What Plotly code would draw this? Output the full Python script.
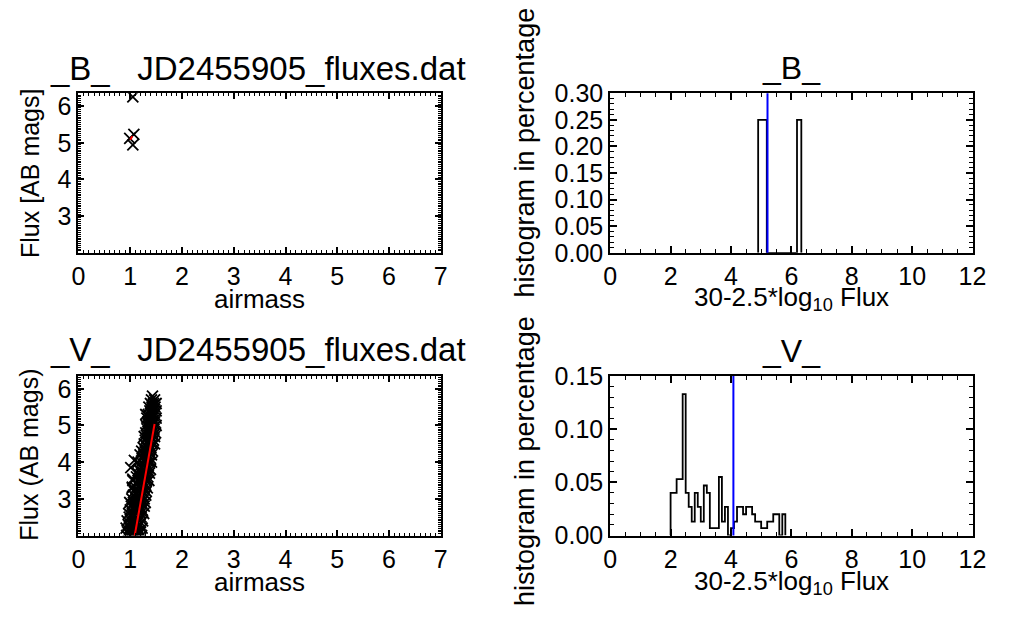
import plotly.graph_objects as go

# ---------------- data ----------------
b_airmass = [1.05, 0.99, 1.07, 1.05]
b_mag = [6.25, 5.12, 5.23, 4.94]
b_fit_airmass = [1.00, 1.04]
b_fit_mag = [5.08, 5.18]

v_airmass = [
    0.93, 1.00, 1.08, 1.15, 1.22,
    0.95, 1.03, 1.12, 1.20,
    0.92, 0.99, 1.06, 1.14, 1.23,
    0.96, 1.04, 1.11, 1.19,
    0.94, 1.01, 1.09, 1.17, 1.24,
    0.98, 1.06, 1.13, 1.21,
    0.97, 1.04, 1.12, 1.20, 1.26,
    1.00, 1.08, 1.16, 1.23,
    1.02, 1.10, 1.18, 1.27,
    0.99, 1.06, 1.14, 1.22, 1.29,
    1.03, 1.11, 1.19, 1.27,
    1.06, 1.14, 1.22, 1.30,
    1.08, 1.16, 1.24, 1.31,
    1.04, 1.11, 1.19, 1.27, 1.33,
    1.13, 1.21, 1.29,
    1.05, 1.15, 1.23, 1.31, 1.36,
    1.12, 1.19, 1.27, 1.34,
    1.14, 1.22, 1.30, 1.37,
    1.01, 1.17, 1.25, 1.33, 1.39,
    1.19, 1.27, 1.35,
    1.08, 1.15, 1.21, 1.29, 1.37, 1.41,
    1.23, 1.31, 1.39,
    1.19, 1.26, 1.34, 1.41,
    1.22, 1.29, 1.37, 1.43,
    1.25, 1.32, 1.40,
    1.27, 1.35, 1.43, 1.47,
    1.29, 1.37, 1.45,
    1.27, 1.33, 1.40, 1.47,
    1.30, 1.36, 1.43, 1.49,
    1.33, 1.39, 1.46,
    1.31, 1.37, 1.43, 1.50,
    1.34, 1.40, 1.47,
    1.32, 1.37, 1.43, 1.50,
    1.30, 1.35, 1.41, 1.47,
    1.38, 1.44, 1.50,
    1.36, 1.42, 1.48,
    1.39, 1.45, 1.50,
    1.41, 1.47,
    1.43,
    1.04, 1.05,
]
v_mag = [
    2.00, 2.00, 2.00, 2.00, 2.00,
    2.10, 2.10, 2.10, 2.10,
    2.20, 2.20, 2.20, 2.20, 2.20,
    2.30, 2.30, 2.30, 2.30,
    2.40, 2.40, 2.40, 2.40, 2.40,
    2.50, 2.50, 2.50, 2.50,
    2.60, 2.60, 2.60, 2.60, 2.60,
    2.70, 2.70, 2.70, 2.70,
    2.80, 2.80, 2.80, 2.80,
    2.90, 2.90, 2.90, 2.90, 2.90,
    3.00, 3.00, 3.00, 3.00,
    3.10, 3.10, 3.10, 3.10,
    3.20, 3.20, 3.20, 3.20,
    3.30, 3.30, 3.30, 3.30, 3.30,
    3.40, 3.40, 3.40,
    3.50, 3.50, 3.50, 3.50, 3.50,
    3.60, 3.60, 3.60, 3.60,
    3.70, 3.70, 3.70, 3.70,
    3.85, 3.80, 3.80, 3.80, 3.80,
    3.90, 3.90, 3.90,
    4.05, 4.00, 4.00, 4.00, 4.00, 4.00,
    4.10, 4.10, 4.10,
    4.20, 4.20, 4.20, 4.20,
    4.30, 4.30, 4.30, 4.30,
    4.40, 4.40, 4.40,
    4.50, 4.50, 4.50, 4.50,
    4.60, 4.60, 4.60,
    4.70, 4.70, 4.70, 4.70,
    4.80, 4.80, 4.80, 4.80,
    4.90, 4.90, 4.90,
    5.00, 5.00, 5.00, 5.00,
    5.10, 5.10, 5.10,
    5.20, 5.20, 5.20, 5.20,
    5.30, 5.30, 5.30, 5.30,
    5.40, 5.40, 5.40,
    5.50, 5.50, 5.50,
    5.60, 5.60, 5.60,
    5.70, 5.70,
    5.80,
    3.32, 3.54,
]
v_fit_airmass = [1.08, 1.47]
v_fit_mag = [1.95, 5.04]

# histograms (fraction per bin)
b_hist_start = 4.90
b_hist_width = 0.143
b_hist_values = [0.25, 0.25, 0, 0, 0, 0, 0, 0, 0, 0.25]
b_hist_mean = 5.21

v_hist_start = 2.0
v_hist_width = 0.1
v_hist_values = [
    0.040, 0.040, 0.053, 0.053, 0.133, 0.040, 0.027, 0.013, 0.040, 0.027,
    0.013, 0.047, 0.040, 0.007, 0.007, 0.007, 0.055, 0.013, 0.027, 0.000,
    0.007, 0.013, 0.027, 0.027, 0.020, 0.027, 0.027, 0.020, 0.013, 0.013,
    0.007, 0.007, 0.013, 0.013, 0.020, 0.020, 0.000, 0.020,
]
v_hist_mean = 4.08

left_xticks = [0, 1, 2, 3, 4, 5, 6, 7]
left_yticks = [3, 4, 5, 6]
right_xticks = [0, 2, 4, 6, 8, 10, 12]
b_hist_yticks = [0.00, 0.05, 0.10, 0.15, 0.20, 0.25, 0.30]
v_hist_yticks = [0.00, 0.05, 0.10, 0.15]

# ---------------- helpers ----------------
W, H = 1011, 624
FONT = "Liberation Sans, Arial, sans-serif"


def px_x(p):
    return p / W


def px_y(p):
    return 1 - p / H


def steps(start, width, values):
    xs, ys = [start], [0]
    for i, v in enumerate(values):
        x0 = start + i * width
        x1 = x0 + width
        xs += [x0, x1]
        ys += [v, v]
    xs.append(start + len(values) * width)
    ys.append(0)
    return xs, ys


fig = go.Figure()

marker = dict(symbol="x-thin-open", size=11, color="black",
              line=dict(color="black", width=1.8))

# top-left
fig.add_trace(go.Scatter(x=b_airmass, y=b_mag, mode="markers", marker=marker,
                         xaxis="x", yaxis="y", showlegend=False))
fig.add_trace(go.Scatter(x=b_fit_airmass, y=b_fit_mag, mode="lines",
                         line=dict(color="#ff0000", width=2),
                         xaxis="x", yaxis="y", showlegend=False))
# bottom-left
fig.add_trace(go.Scatter(x=v_airmass, y=v_mag, mode="markers", marker=marker,
                         xaxis="x3", yaxis="y3", showlegend=False))
fig.add_trace(go.Scatter(x=v_fit_airmass, y=v_fit_mag, mode="lines",
                         line=dict(color="#ff0000", width=2),
                         xaxis="x3", yaxis="y3", showlegend=False))
# top-right histogram
bx, by = steps(b_hist_start, b_hist_width, b_hist_values)
fig.add_trace(go.Scatter(x=bx, y=by, mode="lines",
                         line=dict(color="black", width=1.8),
                         xaxis="x2", yaxis="y2", showlegend=False))
# bottom-right histogram
vx, vy = steps(v_hist_start, v_hist_width, v_hist_values)
fig.add_trace(go.Scatter(x=vx, y=vy, mode="lines",
                         line=dict(color="black", width=1.8),
                         xaxis="x4", yaxis="y4", showlegend=False))

# mean lines
fig.add_shape(type="line", xref="x2", yref="y2 domain", x0=b_hist_mean,
              x1=b_hist_mean, y0=0, y1=1, line=dict(color="#0000ff", width=2))
fig.add_shape(type="line", xref="x4", yref="y4 domain", x0=v_hist_mean,
              x1=v_hist_mean, y0=0, y1=1, line=dict(color="#0000ff", width=2))

left_dom = [px_x(73), px_x(443)]
right_dom = [px_x(616), px_x(986)]
top_dom = [px_y(250), px_y(83)]
bot_dom = [px_y(546), px_y(379)]

tickfont = dict(family=FONT, size=25, color="black")


def axis(domain, anchor, rng, tickvals, ticklen, minor_dtick, minor_len, fmt=None):
    d = dict(domain=domain, anchor=anchor, range=rng, tickvals=tickvals,
             ticks="inside", ticklen=ticklen, tickwidth=1.5, tickcolor="black",
             showline=True, linecolor="black", linewidth=2, mirror="ticks",
             showgrid=False, zeroline=False, tickfont=tickfont,
             minor=dict(ticks="inside", ticklen=minor_len, dtick=minor_dtick,
                        tickcolor="black", tickwidth=1, showgrid=False))
    if fmt:
        d["tickformat"] = fmt
    return d


fig.update_layout(
    width=W, height=H,
    margin=dict(l=0, r=0, t=0, b=0),
    paper_bgcolor="white", plot_bgcolor="white",
    font=dict(family=FONT, color="black"),
    xaxis=axis(left_dom, "y", [0, 7], left_xticks, 6, 0.1, 3),
    yaxis=axis(top_dom, "x", [2.0, 6.35], left_yticks, 6, 0.05, 3),
    xaxis2=axis(right_dom, "y2", [0, 12], right_xticks, 7, 0.5, 4),
    yaxis2=axis(top_dom, "x2", [0, 0.30], b_hist_yticks, 7, 0.01, 4, ".2f"),
    xaxis3=axis(left_dom, "y3", [0, 7], left_xticks, 6, 0.1, 3),
    yaxis3=axis(bot_dom, "x3", [2.0, 6.35], left_yticks, 6, 0.05, 3),
    xaxis4=axis(right_dom, "y4", [0, 12], right_xticks, 7, 0.5, 4),
    yaxis4=axis(bot_dom, "x4", [0, 0.15], v_hist_yticks, 7, 0.01, 4, ".2f"),
)

NB = "\u00a0"
texts = [
    (f"_B_{NB*3}JD2455905_fluxes.dat", 256, 57, 33, 0),
    (f"_V_{NB*3}JD2455905_fluxes.dat", 256, 351, 33, 0),
    ("_B_", 801, 57, 32, 0),
    ("_V_", 801, 353, 32, 0),
    ("airmass", 258, 298, 26, 0),
    ("airmass", 258, 595, 26, 0),
    ("30-2.5*log<sub>10</sub> Flux", 801, 298, 26, 0),
    ("30-2.5*log<sub>10</sub> Flux", 801, 595, 26, 0),
    ("Flux [AB mags]", 23, 167, 25, -90),
    ("Flux (AB mags)", 23, 462, 25, -90),
    ("histogram in percentage", 529, 145, 27, -90),
    ("histogram in percentage", 529, 468, 27, -90),
]
for t, x, y, s, ang in texts:
    fig.add_annotation(text=t, x=px_x(x), y=px_y(y), xref="paper", yref="paper",
                       xanchor="center", yanchor="middle", showarrow=False,
                       textangle=ang, font=dict(family=FONT, size=s, color="black"))

fig.write_html("out.html",
               config={"displayModeBar": False},
               post_script="document.body.style.margin='0';"
                           "document.body.style.overflow='hidden';")
